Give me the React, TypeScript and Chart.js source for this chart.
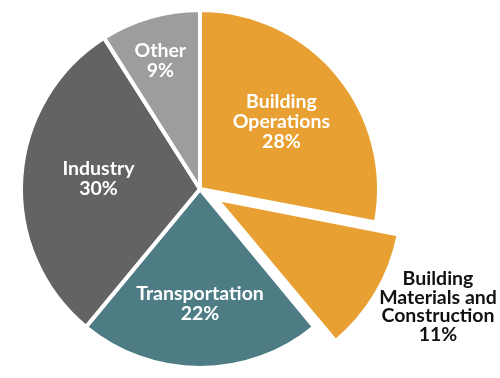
import React, { useEffect, useRef } from "react";
import { Chart, registerables } from "chart.js";

Chart.register(...registerables);

const categories = [
  "Building Operations",
  "Building Materials and Construction",
  "Transportation",
  "Industry",
  "Other",
];
const shares = [28, 11, 22, 30, 9];
const labelNameLines = [
  ["Building", "Operations"],
  ["Building", "Materials and", "Construction"],
  ["Transportation"],
  ["Industry"],
  ["Other"],
];

const sliceColors = ["#E8A033", "#E8A033", "#4D7C84", "#636363", "#9D9D9D"];
// Chart.js translates an arc by offset / 4
const sliceOffsets = [0, 76, 0, 0, 0];
const labelColors = ["#ffffff", "#111111", "#ffffff", "#ffffff", "#ffffff"];
const labelRadiusFactor = [0.59, 1.377, 0.64, 0.57, 0.75];
const labelAngleShift = [0, -4.66, 0, 2, -1];
const labelLineHeight = [20, 18.5, 20, 20, 20];
const labelFontSize = [19.5, 19.5, 19.5, 19.5, 19.5];

const labelPlugin = {
  id: "sliceLabels",
  afterDatasetsDraw(chart: any) {
    const ctx = chart.ctx;
    const meta = chart.getDatasetMeta(0);
    ctx.save();
    ctx.textAlign = "center";
    ctx.textBaseline = "middle";
    meta.data.forEach((arc: any, i: number) => {
      const { x, y, startAngle, endAngle, outerRadius } = arc.getProps(
        ["x", "y", "startAngle", "endAngle", "outerRadius"],
        true
      );
      const mid = (startAngle + endAngle) / 2;
      const off = sliceOffsets[i] / 4;
      const cx = x + Math.cos(mid) * off;
      const cy = y + Math.sin(mid) * off;
      const a = mid + (labelAngleShift[i] * Math.PI) / 180;
      const r = outerRadius * labelRadiusFactor[i];
      const lx = cx + Math.cos(a) * r;
      const ly = cy + Math.sin(a) * r;
      const lines = [...labelNameLines[i], `${shares[i]}%`];
      const lh = labelLineHeight[i];
      ctx.font = `bold ${labelFontSize[i]}px Lato`;
      ctx.fillStyle = labelColors[i];
      const top = ly - ((lines.length - 1) * lh) / 2;
      lines.forEach((t, k) => ctx.fillText(t, lx, top + k * lh));
    });
    ctx.restore();
  },
};

export default function App() {
  const ref = useRef<HTMLCanvasElement | null>(null);
  useEffect(() => {
    if (!ref.current) return;
    const chart = new Chart(ref.current, {
      type: "pie",
      data: {
        labels: categories,
        datasets: [
          {
            data: shares,
            backgroundColor: sliceColors,
            borderColor: "#ffffff",
            borderWidth: 4,
            offset: sliceOffsets,
            clip: false,
          } as any,
        ],
      },
      options: {
        animation: false,
        responsive: false,
        radius: 179,
        layout: { padding: { left: 0, right: 100, top: 0, bottom: 0 } },
        plugins: {
          legend: { display: false },
          tooltip: { enabled: false },
        },
      } as any,
      plugins: [labelPlugin],
    });
    return () => chart.destroy();
  }, []);
  return (
    <div style={{ position: "absolute", left: 0, top: 0, width: 500, height: 378, background: "#fff" }}>
      <canvas ref={ref} width={500} height={378} style={{ display: "block" }} />
    </div>
  );
}
